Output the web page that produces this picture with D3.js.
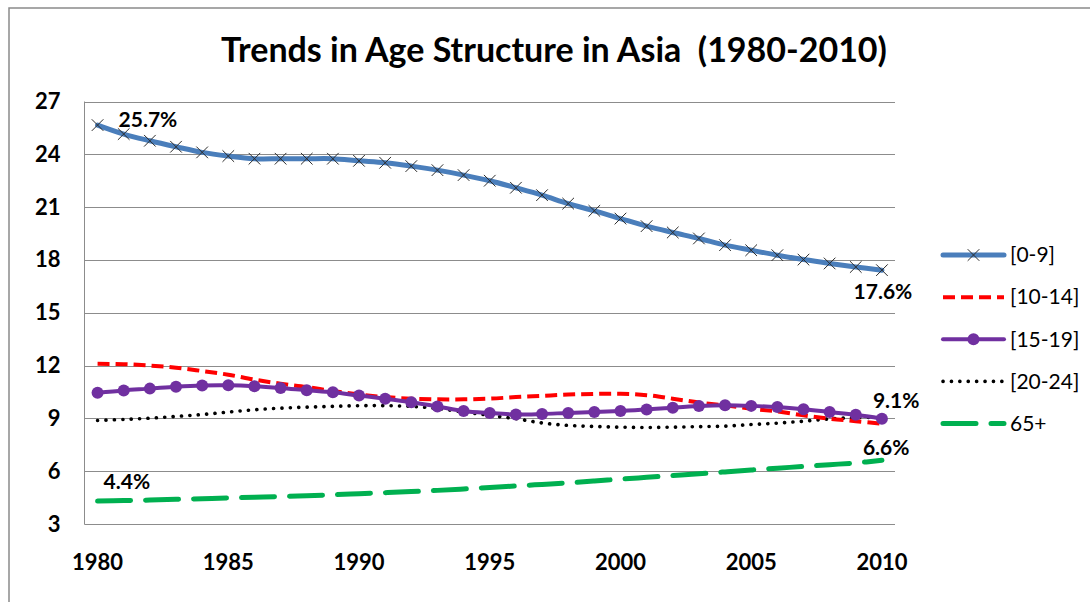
<!DOCTYPE html>
<html>
<head>
<meta charset="utf-8">
<script src="https://cdn.jsdelivr.net/npm/d3@7"></script>
<style>
  html, body { margin: 0; padding: 0; background: #fff; }
  svg { display: block; }
  text { font-family: Lato, "Open Sans", sans-serif; fill: #000; }
</style>
</head>
<body>
<svg id="chart" width="1090" height="602"></svg>
<script>
// ---- data ----
const years = [1980,1981,1982,1983,1984,1985,1986,1987,1988,1989,1990,1991,1992,1993,1994,1995,1996,1997,1998,1999,2000,2001,2002,2003,2004,2005,2006,2007,2008,2009,2010];
const xTickLabels = ["1980","1985","1990","1995","2000","2005","2010"];
const yTicks = [3,6,9,12,15,18,21,24,27];
const seriesNames = ["[0-9]","[10-14]","[15-19]","[20-24]","65+"];
const age0_9 = [25.66,25.15,24.77,24.43,24.11,23.9,23.75,23.75,23.75,23.75,23.63,23.52,23.33,23.1,22.82,22.5,22.1,21.68,21.2,20.79,20.35,19.92,19.56,19.22,18.84,18.55,18.27,18.02,17.8,17.6,17.42];
const age10_14 = [12.1,12.08,12.0,11.88,11.69,11.48,11.2,10.97,10.78,10.55,10.36,10.21,10.12,10.08,10.08,10.12,10.21,10.28,10.35,10.39,10.4,10.32,10.12,9.9,9.74,9.55,9.39,9.17,8.98,8.84,8.69];
const age15_19 = [10.46,10.59,10.69,10.8,10.87,10.88,10.83,10.73,10.6,10.48,10.3,10.12,9.92,9.68,9.42,9.3,9.22,9.25,9.31,9.36,9.42,9.5,9.61,9.7,9.74,9.71,9.64,9.52,9.36,9.2,8.98];
const age20_24 = [8.88,8.94,9.01,9.11,9.22,9.36,9.49,9.58,9.64,9.68,9.72,9.72,9.68,9.56,9.36,9.17,8.98,8.74,8.6,8.54,8.5,8.48,8.5,8.53,8.56,8.65,8.73,8.84,8.97,9.04,9.05];
const age65 = [4.3,4.33,4.36,4.4,4.44,4.48,4.52,4.56,4.61,4.66,4.72,4.78,4.84,4.91,4.99,5.08,5.16,5.25,5.34,5.44,5.55,5.65,5.75,5.85,5.96,6.07,6.17,6.27,6.37,6.47,6.62];
const dataLabels = [
  {series: 0, index: 0,  text: "25.7%"},
  {series: 0, index: 30, text: "17.6%"},
  {series: 2, index: 30, text: "9.1%"},
  {series: 4, index: 30, text: "6.6%"},
  {series: 4, index: 0,  text: "4.4%"}
];

// ---- layout ----
const svg = d3.select("#chart");
const plot = {left: 84.5, right: 895, top: 101.5, bottom: 524};

const x = d3.scaleBand().domain(years).range([plot.left, plot.right]);
const xc = yr => x(yr) + x.bandwidth() / 2;
const y = d3.scaleLinear().domain([3, 27]).range([plot.bottom, plot.top]);

const styles = [
  {color: "#4A7EBB", width: 5, dash: null, cap: "round", marker: "x"},
  {color: "#FF0000", width: 4, dash: "12 6", cap: "butt", marker: null},
  {color: "#7030A0", width: 4, dash: null, cap: "round", marker: "circle"},
  {color: "#000000", width: 3.6, dash: "0.1 8.3", cap: "round", marker: null},
  {color: "#00B050", width: 5, dash: "33 15", cap: "round", marker: null}
];
const allSeries = [age0_9, age10_14, age15_19, age20_24, age65];

// outer chart border
svg.append("rect").attr("x", 9).attr("y", 8).attr("width", 1300).attr("height", 800)
  .attr("fill", "none").attr("stroke", "#8a8a8a").attr("stroke-width", 1.5);

// title
svg.append("text").attr("x", 554).attr("y", 62).attr("text-anchor", "middle")
  .attr("font-size", 34).attr("font-weight", "bold")
  .style("white-space", "pre")
  .text("Trends in Age Structure in Asia  (1980-2010)");

// gridlines
svg.append("g").selectAll("line").data(yTicks).join("line")
  .attr("x1", plot.left).attr("x2", plot.right)
  .attr("y1", d => Math.round(y(d)) + 0.5).attr("y2", d => Math.round(y(d)) + 0.5)
  .attr("stroke", "#8c8c8c").attr("stroke-width", 1);

// axes lines
svg.append("line").attr("x1", plot.left).attr("x2", plot.left)
  .attr("y1", plot.top).attr("y2", plot.bottom).attr("stroke", "#8c8c8c");
svg.append("line").attr("x1", plot.left).attr("x2", plot.right)
  .attr("y1", Math.round(y(3)) + 0.5).attr("y2", Math.round(y(3)) + 0.5).attr("stroke", "#8c8c8c");

// y axis using d3.axisLeft (labels only)
const yAxis = svg.append("g").attr("transform", `translate(${plot.left},0)`)
  .call(d3.axisLeft(y).tickValues(yTicks).tickSize(0).tickPadding(24));
yAxis.select(".domain").remove();
yAxis.selectAll("text").attr("font-size", 22).attr("font-weight", "bold")
  .attr("font-family", "Lato, sans-serif").attr("fill", "#000");

// x axis
const xAxis = svg.append("g").attr("transform", `translate(0,${plot.bottom})`)
  .call(d3.axisBottom(x).tickValues(xTickLabels.map(Number)).tickSize(0).tickPadding(30));
xAxis.select(".domain").remove();
xAxis.selectAll("text").attr("font-size", 22).attr("font-weight", "bold")
  .attr("font-family", "Lato, sans-serif").attr("fill", "#000");

// lines
const line = d3.line().x((d, i) => xc(years[i])).y(d => y(d)).curve(d3.curveCatmullRom.alpha(0.5));
const drawOrder = [4, 3, 1, 0, 2];
drawOrder.forEach(si => {
  const s = styles[si];
  svg.append("path").datum(allSeries[si]).attr("d", line)
    .attr("fill", "none").attr("stroke", s.color).attr("stroke-width", s.width)
    .attr("stroke-linecap", s.cap).attr("stroke-linejoin", "round")
    .attr("stroke-dasharray", s.dash);
  if (s.marker === "x") {
    svg.append("g").selectAll("path").data(allSeries[si]).join("path")
      .attr("d", d3.symbol(d3.symbolX, 90))
      .attr("transform", (d, i) => `translate(${xc(years[i])},${y(d)})`)
      .attr("fill", "none").attr("stroke", "#2b2b2b").attr("stroke-width", 1);
  } else if (s.marker === "circle") {
    svg.append("g").selectAll("circle").data(allSeries[si]).join("circle")
      .attr("cx", (d, i) => xc(years[i])).attr("cy", d => y(d)).attr("r", 6)
      .attr("fill", s.color);
  }
});

// data labels
const labelOffsets = [
  {dx: 21, dy: -5, anchor: "start"},
  {dx: 1, dy: 22, anchor: "middle"},
  {dx: -9, dy: -18, anchor: "start"},
  {dx: -19, dy: -13, anchor: "start"},
  {dx: 6, dy: -19, anchor: "start"}
];
dataLabels.forEach((lb, k) => {
  const o = labelOffsets[k];
  const v = allSeries[lb.series][lb.index];
  svg.append("text")
    .attr("x", xc(years[lb.index]) + o.dx).attr("y", y(v) + o.dy)
    .attr("dy", "0.35em").attr("text-anchor", o.anchor)
    .attr("font-size", 21).attr("font-weight", "bold").text(lb.text);
});

// legend
const legend = svg.append("g");
const legY = d3.scalePoint().domain(seriesNames).range([255, 423.5]);
seriesNames.forEach((name, si) => {
  const s = styles[si];
  const yy = legY(name);
  const g = legend.append("g");
  g.append("line").attr("x1", 943).attr("x2", 1004).attr("y1", yy).attr("y2", yy)
    .attr("stroke", s.color).attr("stroke-width", s.width)
    .attr("stroke-linecap", s.cap).attr("stroke-dasharray", s.dash);
  if (s.marker === "x") {
    g.append("path").attr("d", d3.symbol(d3.symbolX, 90))
      .attr("transform", `translate(973.5,${yy})`).attr("fill", "none")
      .attr("stroke", "#2b2b2b").attr("stroke-width", 1);
  } else if (s.marker === "circle") {
    g.append("circle").attr("cx", 973.5).attr("cy", yy).attr("r", 6).attr("fill", s.color);
  }
  g.append("text").attr("x", 1010).attr("y", yy).attr("dy", "0.35em")
    .attr("font-size", 21).text(name);
});
</script>
</body>
</html>
